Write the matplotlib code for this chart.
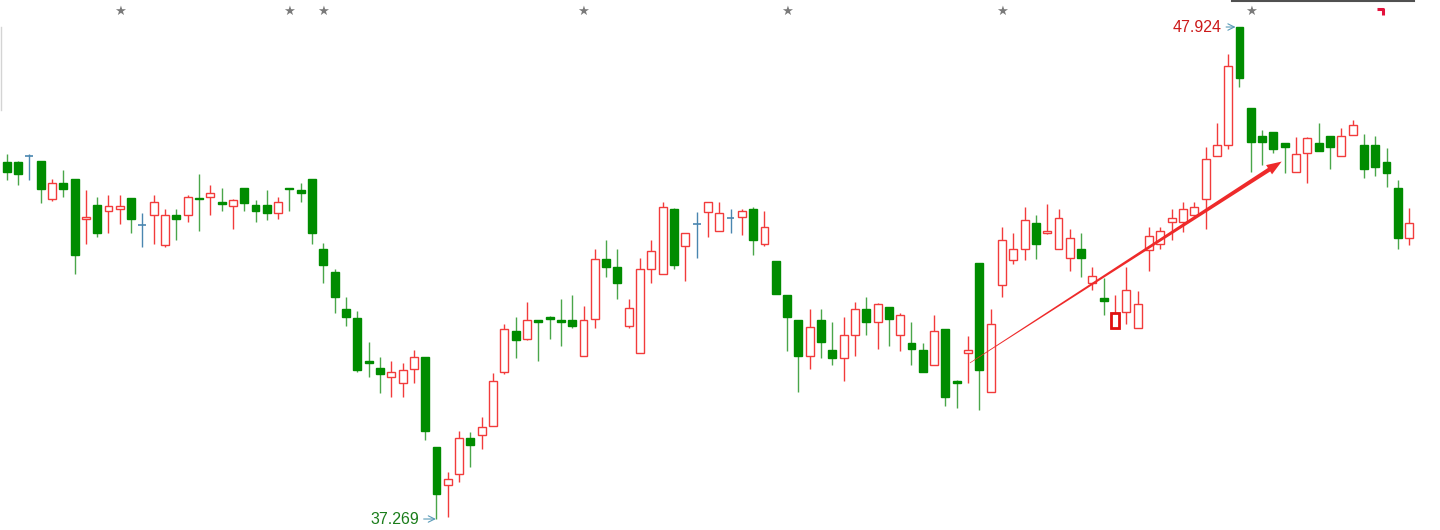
import matplotlib
matplotlib.use('Agg')
import matplotlib.pyplot as plt
import numpy as np
from matplotlib.patches import Polygon

# daily OHLC (price units)
opens = [44.99, 44.99, 45.13, 45.03, 44.19, 44.55, 44.64, 43.76, 44.08, 43.95,
         43.99, 44.23, 43.64, 43.85, 43.21, 43.85, 43.85, 44.23, 44.24, 44.13,
         44.05, 44.44, 44.08, 44.08, 43.90, 44.43, 44.39, 44.63, 43.11, 42.62,
         41.82, 41.63, 40.69, 40.54, 40.35, 40.21, 40.51, 40.78, 38.82, 38.01,
         38.24, 39.02, 39.09, 39.28, 40.45, 41.33, 41.16, 41.57, 41.64, 41.57,
         41.58, 40.80, 41.59, 42.91, 42.72, 41.45, 40.86, 42.68, 42.57, 43.98,
         43.18, 43.66, 43.91, 43.51, 43.79, 43.80, 43.98, 43.22, 42.86, 42.11,
         41.58, 40.80, 41.58, 40.94, 40.75, 41.25, 41.82, 41.54, 41.87, 41.25,
         41.09, 40.94, 40.60, 41.38, 40.25, 40.86, 42.82, 40.01, 42.33, 42.88,
         43.12, 43.69, 43.46, 43.12, 42.93, 43.11, 42.39, 42.06, 41.41, 41.75,
         41.41, 43.09, 43.22, 43.71, 43.71, 43.85, 44.19, 45.14, 45.37, 47.924,
         46.16, 45.56, 45.66, 45.42, 44.79, 45.19, 45.42, 45.56, 45.14, 45.59,
         45.37, 45.37, 44.99, 44.44, 43.35]
highs = [45.17, 45.03, 45.17, 45.03, 44.63, 44.83, 44.64, 44.39, 44.24, 44.28,
         44.28, 44.23, 43.89, 44.28, 43.99, 43.99, 44.28, 44.74, 44.50, 44.43,
         44.21, 44.44, 44.18, 44.39, 44.24, 44.43, 44.54, 44.63, 43.25, 42.68,
         42.07, 41.77, 41.10, 40.78, 40.70, 40.64, 40.94, 40.78, 38.82, 38.29,
         39.17, 39.16, 39.47, 40.44, 41.49, 41.64, 41.97, 41.57, 41.67, 42.03,
         42.12, 41.88, 43.12, 43.31, 43.12, 42.03, 42.92, 43.31, 44.13, 44.00,
         43.46, 43.92, 44.14, 44.13, 43.98, 43.98, 44.03, 43.95, 42.86, 42.11,
         41.58, 41.82, 41.82, 41.53, 41.64, 41.96, 42.07, 41.94, 41.87, 41.72,
         41.53, 41.09, 41.68, 41.38, 40.28, 41.24, 42.82, 41.82, 43.60, 43.46,
         44.03, 43.85, 44.09, 43.98, 43.55, 43.46, 42.72, 42.48, 42.12, 42.72,
         42.21, 43.60, 43.60, 43.98, 44.13, 44.14, 45.32, 45.84, 47.33, 47.924,
         46.16, 45.69, 45.66, 45.42, 45.55, 45.55, 45.85, 45.56, 45.73, 45.91,
         45.61, 45.56, 45.30, 44.61, 44.00]
lows = [44.60, 44.50, 44.60, 44.11, 44.16, 44.24, 42.58, 43.22, 43.37, 43.46,
        43.66, 43.46, 43.17, 43.22, 43.17, 43.31, 43.71, 43.51, 43.85, 43.95,
        43.56, 43.95, 43.71, 43.74, 43.76, 43.95, 44.14, 43.22, 42.37, 41.74,
        41.45, 40.46, 40.35, 40.00, 39.92, 39.92, 40.21, 38.98, 37.269, 37.32,
        38.06, 38.39, 38.78, 39.28, 40.40, 40.75, 41.14, 40.70, 41.16, 41.01,
        41.40, 40.80, 41.40, 42.52, 42.03, 41.41, 40.86, 42.37, 42.57, 42.68,
        42.42, 42.93, 43.37, 43.51, 43.47, 43.41, 42.98, 43.18, 42.14, 40.91,
        40.01, 40.51, 40.76, 40.60, 40.26, 40.80, 41.25, 40.95, 41.02, 40.91,
        40.60, 40.45, 40.60, 39.72, 39.67, 40.21, 39.63, 40.01, 42.08, 42.79,
        42.88, 42.91, 43.44, 43.12, 42.63, 42.52, 42.23, 41.69, 41.41, 41.49,
        41.41, 42.63, 43.11, 43.31, 43.48, 43.82, 43.56, 45.14, 45.28, 46.62,
        44.79, 44.94, 45.19, 44.76, 44.79, 44.54, 45.24, 44.85, 45.14, 45.59,
        44.65, 44.70, 44.45, 43.11, 43.20]
closes = [44.79, 44.75, 45.13, 44.41, 44.55, 44.41, 42.98, 43.80, 43.47, 44.04,
          44.05, 43.76, 43.64, 44.13, 43.85, 43.76, 44.24, 44.20, 44.32, 44.10,
          44.18, 44.11, 43.95, 43.90, 44.13, 44.41, 44.34, 43.47, 42.78, 42.08,
          41.64, 40.50, 40.65, 40.40, 40.45, 40.50, 40.78, 39.18, 37.80, 38.14,
          39.02, 38.88, 39.27, 40.26, 41.38, 41.15, 41.58, 41.54, 41.60, 41.54,
          41.45, 41.58, 42.91, 42.73, 42.37, 41.83, 42.68, 43.07, 44.03, 42.78,
          43.46, 43.66, 44.13, 43.89, 43.79, 43.93, 43.32, 43.59, 42.14, 41.65,
          40.81, 41.43, 41.11, 40.75, 41.25, 41.82, 41.54, 41.92, 41.59, 41.68,
          40.96, 40.45, 41.33, 39.92, 40.21, 40.94, 40.50, 41.49, 43.31, 43.11,
          43.74, 43.22, 43.51, 43.79, 43.35, 42.93, 42.54, 41.99, 41.74, 42.22,
          41.92, 43.40, 43.50, 43.79, 43.98, 44.03, 45.07, 45.36, 47.09, 46.81,
          45.43, 45.43, 45.28, 45.33, 45.17, 45.51, 45.24, 45.33, 45.56, 45.80,
          44.84, 44.90, 44.77, 43.35, 43.69]

star_idx = [10, 25, 28, 51, 69, 88, 110]
selected_idx = 98
trend_start = (85.17, 40.65)
trend_end = (112.73, 45.01)

RED = '#f23b3b'
GREEN = '#008c00'
WICK_GREEN = '#4aa64a'
DOJI = '#4a86b0'
LINK = '#5b9cb8'

fig = plt.figure(figsize=(14.4, 5.3), dpi=100)
fig.patch.set_facecolor('white')
ax = fig.add_axes([0, 0, 1, 1])
ax.set_xlim(-0.592, 126.73)
ax.set_ylim(37.031, 48.509)
ax.axis('off')

o = np.array(opens)
h = np.array(highs)
l = np.array(lows)
c = np.array(closes)
x = np.arange(len(o))
up = c > o
dn = c < o
dj = c == o
w = 0.7

# up candles: hollow red
ax.vlines(x[up], l[up], h[up], colors=RED, lw=1, zorder=1)
ax.bar(x[up], c[up] - o[up], bottom=o[up], width=w, facecolor='white',
       edgecolor=RED, linewidth=1, zorder=2)
# down candles: solid green
ax.vlines(x[dn], l[dn], h[dn], colors=WICK_GREEN, lw=1, zorder=1)
ax.bar(x[dn], c[dn] - o[dn], bottom=o[dn], width=w, facecolor=GREEN,
       edgecolor=GREEN, linewidth=1, zorder=2)
# doji
ax.vlines(x[dj], l[dj], h[dj], colors=DOJI, lw=1, zorder=1)
ax.hlines(o[dj], x[dj] - w / 2, x[dj] + w / 2, colors=DOJI, lw=1.2, zorder=2)

# highlighted candle
s = selected_idx
ax.bar([s], [c[s] - o[s]], bottom=[o[s]], width=w, facecolor='white',
       edgecolor='#e01010', linewidth=2, zorder=3)


def taper_arrow(ax, p0, p1, w0, w1, head_len, head_w, color):
    T = ax.transData
    a = T.transform(p0)
    b = T.transform(p1)
    d = b - a
    u = d / np.hypot(*d)
    n = np.array([-u[1], u[0]])
    base = b - u * head_len
    pts = [a + n * w0 / 2, base + n * w1 / 2, base + n * head_w / 2, b,
           base - n * head_w / 2, base - n * w1 / 2, a - n * w0 / 2]
    pts = T.inverted().transform(np.array(pts))
    ax.add_patch(Polygon(pts, closed=True, facecolor=color, lw=0, zorder=5))


taper_arrow(ax, trend_start, trend_end, 0.6, 4.2, 15, 11, '#ee2a2a')

# max / min labels
imax = int(np.argmax(h))
imin = int(np.argmin(l))
ax.annotate(f'{h[imax]:.3f}', xy=(imax - 0.35, h[imax]), xytext=(imax - 1.55, h[imax]),
            ha='right', va='center', fontsize=11.5, family='Liberation Sans', color='#cc1a1a',
            arrowprops=dict(arrowstyle='->', color=LINK, lw=0.8, shrinkA=1, shrinkB=0))
ax.annotate(f'{l[imin]:.3f}', xy=(imin - 0.05, l[imin]), xytext=(imin - 1.5, l[imin]),
            ha='right', va='center', fontsize=11.5, family='Liberation Sans', color='#1a7d1a',
            arrowprops=dict(arrowstyle='->', color=LINK, lw=0.8, shrinkA=1, shrinkB=0))

# marker stars along the top
for i in star_idx:
    ax.text(i, 1 - 11 / 530, '★', transform=ax.get_xaxis_transform(), ha='center',
            va='center', fontsize=9.5, color='#7a7a7a', family='DejaVu Sans')

# small decorations at the top edge
ax.plot([1232 / 1440, 1414 / 1440], [1 - 0.8 / 530] * 2, transform=ax.transAxes,
        color='#505050', lw=1.5, clip_on=False)
ax.plot([1377 / 1440, 1382.5 / 1440, 1382.5 / 1440], [1 - 8.5 / 530, 1 - 8.5 / 530, 1 - 15 / 530],
        transform=ax.transAxes, color='#e3123c', lw=2.2, solid_capstyle='butt')
ax.plot([0.5 / 1440] * 2, [1 - 27 / 530, 1 - 110 / 530], transform=ax.transAxes,
        color='#d4d4d4', lw=1)

fig.savefig('out.png', dpi=100, facecolor='white')
plt.close(fig)
